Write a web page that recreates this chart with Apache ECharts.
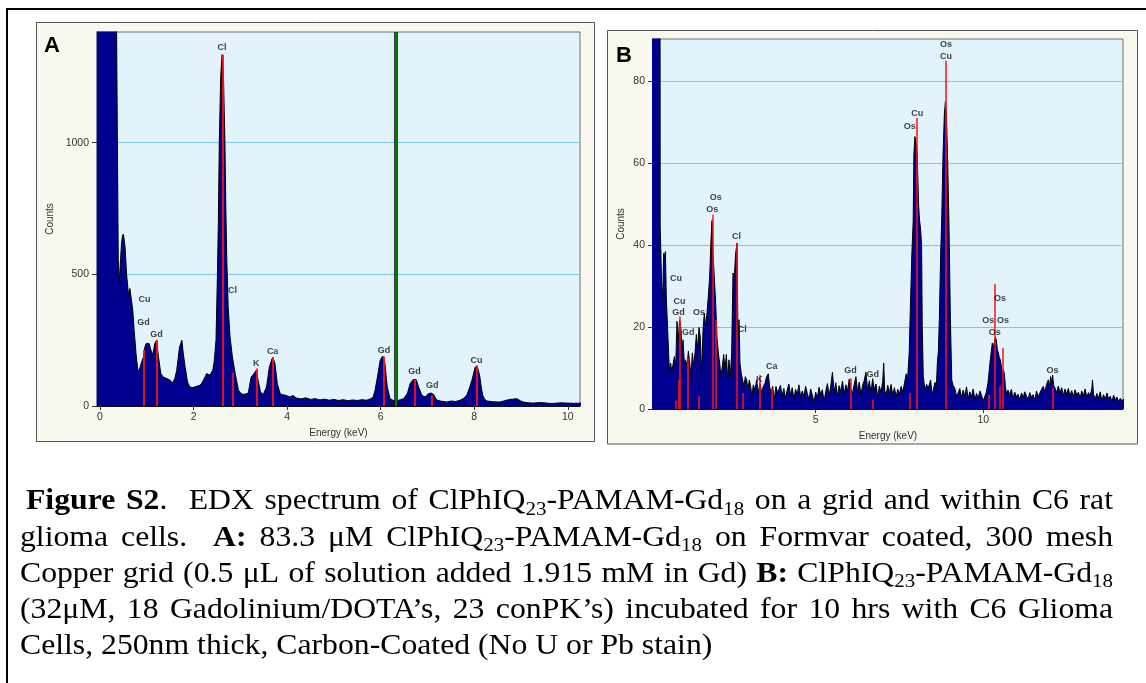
<!DOCTYPE html>
<html><head><meta charset="utf-8">
<script src="https://cdn.jsdelivr.net/npm/echarts@6/dist/echarts.min.js"></script>
<style>html,body{margin:0;padding:0;background:#fff}#c{width:1146px;height:683px}</style>
</head><body><div id="c"></div>
<script>
// ---------- Panel A data (Energy keV, Counts) ----------
const A_energy = [-0.07,0.35,0.355,0.372,0.39,0.413,0.44,0.46,0.48,0.50,0.535,0.57,0.61,0.64,0.66,0.68,0.70,0.73,0.77,0.80,0.82,0.845,0.87,0.90,0.93,0.96,0.99,1.01,1.05,1.08,1.12,1.15,1.17,1.21,1.25,1.30,1.35,1.39,1.43,1.47,1.50,1.55,1.60,1.64,1.70,1.75,1.78,1.82,1.87,1.92,1.96,1.99,2.03,2.07,2.14,2.18,2.21,2.25,2.28,2.35,2.41,2.44,2.48,2.51,2.53,2.55,2.58,2.61,2.64,2.67,2.69,2.71,2.74,2.78,2.83,2.89,2.96,3.01,3.06,3.12,3.17,3.20,3.23,3.28,3.34,3.38,3.43,3.49,3.56,3.62,3.69,3.74,3.79,3.85,3.90,3.96,4.01,4.06,4.12,4.20,4.30,4.40,4.50,4.60,4.70,4.80,4.90,5.00,5.10,5.20,5.30,5.40,5.50,5.60,5.70,5.78,5.84,5.88,5.93,5.99,6.04,6.09,6.14,6.20,6.27,6.34,6.42,6.49,6.57,6.63,6.69,6.76,6.81,6.88,6.95,7.02,7.08,7.13,7.20,7.30,7.41,7.50,7.60,7.70,7.78,7.84,7.90,7.95,8.02,8.07,8.12,8.15,8.18,8.22,8.27,8.40,8.55,8.65,8.73,8.82,8.91,8.98,9.05,9.15,9.26,9.40,9.50,9.60,9.70,9.85,9.98,10.15,10.30];
const A_counts = [3000,3000,1420,1000,560,465,560,617,645,653,605,497,421,446,452,440,364,288,199,150,129,140,155,172,186,224,238,243,237,218,193,215,237,250,186,123,110,108,104,101,98,87,105,136,224,250,199,148,91,72,68,70,72,75,79,88,98,112,123,117,136,167,250,500,700,1000,1250,1334,1250,1000,750,560,376,262,186,123,60,48,44,46,49,80,110,120,136,98,53,44,72,148,186,161,85,47,43,41,38,34,40,30,27,31,25,28,23,26,22,25,21,24,20,23,21,24,22,27,34,60,110,174,189,161,72,28,21,19,24,28,47,85,100,100,72,41,34,47,49,44,22,18,15,19,17,22,30,41,70,98,148,148,110,70,41,26,19,16,15,20,24,26,28,20,15,12,11,13,12,10,10,12,11,10,11];
// Identified element lines (energy, marker height)
const A_lineEnergy = [0.94,1.21,2.62,2.84,3.34,3.69,6.07,6.72,7.10,8.05];
const A_lineHeight = [214,252,1334,126,142,186,189,100,41,155];
// Peak labels (text, energy, counts)
const A_labelText = ['Cl','Cu','Gd','Gd','Cl','K','Ca','Gd','Gd','Gd','Cu'];
const A_labelEnergy = [2.61,0.95,0.93,1.21,2.83,3.34,3.69,6.07,6.72,7.10,8.05];
const A_labelCounts = [1361,405,317,271,437,161,205,212,131,78,174];
const A_cursor = 6.32;
const A_xTicks = [0,2,4,6,8,10];
const A_yTicks = [0,500,1000];

// ---------- Panel B data ----------
const B_energy = [0.10,0.345,0.36,0.405,0.435,0.465,0.49,0.515,0.545,0.574,0.604,0.634,0.673,0.703,0.743,0.783,0.823,0.862,0.902,0.942,0.982,1.012,1.042,1.081,1.121,1.161,1.201,1.241,1.280,1.320,1.360,1.400,1.439,1.479,1.519,1.559,1.598,1.638,1.678,1.718,1.757,1.797,1.837,1.877,1.906,1.936,1.976,2.016,2.056,2.095,2.135,2.175,2.215,2.254,2.294,2.334,2.374,2.413,2.453,2.493,2.533,2.573,2.612,2.652,2.682,2.712,2.741,2.781,2.821,2.861,2.900,2.940,2.980,3.019,3.059,3.099,3.139,3.188,3.238,3.288,3.338,3.387,3.437,3.487,3.537,3.586,3.626,3.666,3.716,3.765,3.815,3.865,3.90,3.95,4.00,4.05,4.10,4.15,4.20,4.25,4.30,4.35,4.40,4.45,4.50,4.55,4.60,4.65,4.70,4.75,4.80,4.85,4.90,4.95,5.00,5.05,5.10,5.15,5.20,5.25,5.30,5.35,5.40,5.45,5.50,5.55,5.60,5.65,5.70,5.75,5.80,5.85,5.90,5.95,6.00,6.05,6.10,6.15,6.20,6.25,6.30,6.35,6.40,6.45,6.50,6.55,6.60,6.65,6.70,6.75,6.80,6.85,6.90,6.95,7.00,7.03,7.06,7.10,7.15,7.20,7.25,7.30,7.35,7.40,7.45,7.50,7.55,7.60,7.65,7.70,7.74,7.79,7.83,7.87,7.91,7.93,7.96,8.00,8.03,8.07,8.10,8.13,8.16,8.18,8.21,8.26,8.31,8.36,8.43,8.47,8.51,8.56,8.60,8.63,8.66,8.69,8.73,8.76,8.80,8.84,8.87,8.90,8.94,8.98,9.02,9.06,9.10,9.15,9.20,9.25,9.30,9.35,9.40,9.45,9.50,9.55,9.60,9.65,9.70,9.75,9.80,9.85,9.90,9.95,10.00,10.04,10.09,10.14,10.18,10.21,10.27,10.30,10.33,10.36,10.39,10.42,10.45,10.48,10.51,10.54,10.57,10.60,10.63,10.66,10.69,10.74,10.79,10.84,10.89,10.94,10.99,11.04,11.09,11.14,11.19,11.24,11.29,11.34,11.39,11.44,11.49,11.54,11.59,11.64,11.69,11.74,11.79,11.84,11.89,11.94,11.98,12.01,12.04,12.07,12.10,12.14,12.19,12.24,12.29,12.34,12.39,12.44,12.49,12.54,12.59,12.64,12.69,12.74,12.79,12.84,12.89,12.94,12.99,13.04,13.09,13.14,13.19,13.24,13.26,13.29,13.34,13.39,13.44,13.49,13.54,13.59,13.64,13.69,13.74,13.79,13.84,13.89,13.94,13.99,14.04,14.09,14.14,14.20];
const B_counts = [300,300,45,29.9,27.5,38.0,37,38.4,26.7,27.1,15.3,9.2,11.2,9.2,10.8,12.8,10.4,21.4,16.9,21.8,19.4,13.7,16.9,11.2,12.0,10.4,14.1,11.2,7.9,13.7,10.4,13.7,18.2,14.6,19.9,17.4,8.6,19.4,23.4,19.9,23.4,27.5,32.3,41.3,46.0,38.0,38.0,25.9,17.4,13.7,11.2,7.9,10.4,13.3,9.6,13.3,7.1,12.0,7.9,13.7,33.2,32.3,38.0,40.5,16.9,21.8,11.2,8.6,9.0,5.5,7.9,7.1,4.6,7.1,5.5,3.1,5.9,4.6,7.1,3.9,6.3,3.9,5.5,6.3,7.9,8.6,5.5,3.9,5.5,2.3,5.5,3.9,4.2,5.8,3.1,5.0,2.6,4.6,6.1,3.3,5.2,2.4,4.8,3.6,5.9,2.9,4.4,3.0,5.5,3.8,2.2,4.9,3.4,1.6,4.1,2.7,5.3,3.5,4.7,1.8,4.3,6.2,3.2,5.6,9.0,4.0,6.4,3.1,5.7,4.2,6.8,3.6,5.9,4.4,7.3,5.0,3.8,6.0,7.9,4.1,6.6,3.4,5.8,7.0,9.0,4.5,6.9,3.9,7.4,4.7,6.1,2.8,5.6,4.0,6.7,11.2,4.5,3.2,5.8,3.9,6.0,3.3,5.2,2.9,4.8,3.6,5.5,4.1,6.3,8.6,7.0,13.7,25.9,38,46,62,66.5,64.5,62,50,46,44,40,20,8,4.6,6.0,5.1,7.1,3.8,4.6,6.5,5.2,11.2,14,21.8,38,46,62,72,75,72,60,44,22,7.1,5.8,5.1,3.2,3.9,5.0,2.8,4.6,3.1,5.4,2.5,4.2,3.0,4.9,2.2,3.8,2.6,4.4,3.3,2.0,1.9,4.0,6.3,9.5,12.0,16.1,15.0,15.3,17.5,16.9,14.5,13.7,12.5,12.0,10.5,9.0,9.6,8.6,5.5,3.9,4.6,3.5,4.8,2.6,4.1,3.0,3.6,2.2,3.9,2.8,4.2,3.1,2.4,4.0,2.9,3.5,2.1,4.4,3.0,3.9,4.8,5.5,4.2,6.0,7.1,5.4,7.9,6.2,8.3,5.8,5.1,4.0,5.6,3.9,5.2,3.3,4.9,3.6,5.0,3.1,4.5,2.9,4.7,3.4,4.1,2.7,4.4,3.2,4.9,2.8,4.0,3.3,5.0,7.1,3.6,2.4,3.8,2.6,4.2,2.0,3.5,2.3,3.9,2.5,3.1,1.8,3.4,2.2,2.9,1.7,2.6,2.0,2.4];
const B_lineEnergy = [0.822,0.912,0.942,1.18,1.50,1.915,2.01,2.632,2.82,3.32,3.68,6.04,6.70,7.81,8.03,8.88,10.15,10.33,10.49,10.57,12.06];
const B_lineHeight = [2,7.1,22.6,12.4,3.1,47.4,21.8,40.5,3.9,8.3,5.1,7.5,2.3,3.9,71,85,3.5,30.5,5.5,14.9,5.1];
const B_labelText = ['Os','Os','Cl','Cu','Cu','Gd','Gd','Os','Cl','K','Ca','Gd','Gd','Cu','Os','Os','Cu','Os','Os','Os','Os','Os'];
const B_labelEnergy = [2.016,1.915,2.64,0.832,0.94,0.91,1.20,1.52,2.81,3.32,3.69,6.04,6.70,8.03,7.81,8.89,8.89,10.50,10.15,10.59,10.34,12.07];
const B_labelCounts = [51.7,48.6,42.0,31.9,26.3,23.6,18.7,23.6,19.3,7.3,10.4,9.4,8.4,72.2,68.9,88.9,86.0,27.0,21.5,21.5,18.7,9.4];
const B_xTicks = [5,10];
const B_yTicks = [0,20,40,60,80];

// ---------- caption text (style, text) ----------
const captionSegs = [
  [['b','Figure S2'],['n','.  EDX spectrum of ClPhIQ'],['s','23'],['n','-PAMAM-Gd'],['s','18'],['n',' on a grid and within C6 rat']],
  [['n','glioma cells.  '],['b','A:'],['n',' 83.3 \u03bcM ClPhIQ'],['s','23'],['n','-PAMAM-Gd'],['s','18'],['n',' on Formvar coated, 300 mesh']],
  [['n','Copper grid (0.5 \u03bcL of solution added 1.915 mM in Gd) '],['b','B:'],['n',' ClPhIQ'],['s','23'],['n','-PAMAM-Gd'],['s','18']],
  [['n','(32\u03bcM, 18 Gadolinium/DOTA\u2019s, 23 conPK\u2019s) incubated for 10 hrs with C6 Glioma']],
  [['n','Cells, 250nm thick, Carbon-Coated (No U or Pb stain)']]
];
const captionJustify = [true,true,true,true,false];

// ---------- styling ----------
const SANS = 'Liberation Sans, Arial, sans-serif';
const SERIF = 'Liberation Serif, Times New Roman, serif';
const NAVY = '#00008f';
const PLOTBG = '#e2f3fb';
const GRIDC = '#78c8e6';
const CAP_SIZE = 29.5, SUB_SIZE = 19.5, CAP_LH = 36, CAP_SX = 1.075;
const CAP_LEFT = [26,20,20,20,20], CAP_RIGHT = 1113, capTop = 483.7, capStep = 36.2;

function zip(a,b){return a.map((v,i)=>[v,b[i]]);}
function redLines(E,H){return E.map((e,i)=>[{coord:[e,0]},{coord:[e,H[i]]}]);}
function labels(T,E,C){return T.map((t,i)=>({name:t,value:[E[i],C[i]]}));}

function xAxisOpt(gi,min,max,ticks,gap){
  return {type:'value',gridIndex:gi,min:min,max:max,
    name:'Energy (keV)',nameLocation:'middle',nameGap:gap,
    nameTextStyle:{fontFamily:SANS,fontSize:10,color:'#333'},
    axisLine:{show:true,onZero:false,lineStyle:{color:'#111',width:1}},
    axisTick:{show:true,customValues:ticks,length:4,lineStyle:{color:'#333'}},
    axisLabel:{customValues:ticks,formatter:v=>String(v),fontFamily:SANS,fontSize:10.5,color:'#333',margin:6},
    splitLine:{show:false}};
}
function yAxisOpt(gi,min,max,ticks,gap){
  return {type:'value',gridIndex:gi,min:min,max:max,
    name:'Counts',nameLocation:'middle',nameGap:gap,
    nameTextStyle:{fontFamily:SANS,fontSize:10,color:'#333'},
    axisLine:{show:true,onZero:false,lineStyle:{color:'#111',width:1}},
    axisTick:{show:true,customValues:ticks,length:5,lineStyle:{color:'#333'}},
    axisLabel:{customValues:ticks,formatter:v=>String(v),fontFamily:SANS,fontSize:10.5,color:'#333',margin:8},
    splitLine:{show:true,lineStyle:{color:GRIDC,width:1}}};
}
const labelStyle = {show:true,position:'inside',formatter:'{b}',fontFamily:SANS,fontSize:9,fontWeight:'bold',color:'#111'};

// ---- caption layout: justified like the word-processor paragraph ----
const mctx = document.createElement('canvas').getContext('2d');
function fontOf(st){
  if (st==='b') return 'bold '+CAP_SIZE+'px '+SERIF;
  if (st==='s') return SUB_SIZE+'px '+SERIF;
  return CAP_SIZE+'px '+SERIF;
}
function measure(st,t){mctx.font=fontOf(st);return mctx.measureText(t).width;}
function buildCaptionLine(segs,justify,left){
  const toks=[];
  segs.forEach(([st,txt])=>{
    if (st==='s'){toks.push([st,txt]);return;}
    const parts=txt.split(' ');
    parts.forEach((p,j)=>{ if(p) toks.push([st,p]); if(j<parts.length-1) toks.push(['SP',st]); });
  });
  let natural=0,nSp=0;
  toks.forEach(([st,t])=>{ if(st==='SP'){natural+=measure(t,' ');nSp++;} else natural+=measure(st,t); });
  const spW = measure('n',' ');
  const target = (CAP_RIGHT-left)/CAP_SX;
  const extra = justify && nSp ? Math.max(0,(target-natural)/nSp) : 0;
  const rich = {
    n:{fontFamily:SERIF,fontSize:CAP_SIZE,lineHeight:CAP_LH,color:'#000'},
    b:{fontFamily:SERIF,fontSize:CAP_SIZE,lineHeight:CAP_LH,fontWeight:'bold',color:'#000'},
    s:{fontFamily:SERIF,fontSize:SUB_SIZE,lineHeight:21,verticalAlign:'bottom',color:'#000'},
    g:{fontFamily:SERIF,fontSize:CAP_SIZE,lineHeight:CAP_LH,width:spW+extra}
  };
  const text = toks.map(([st,t])=> st==='SP' ? '{g| }' : '{'+st+'|'+t+'}').join('');
  return {text,rich};
}

const graphics = [
  {type:'rect',z:-10,shape:{x:7,y:9,width:1160,height:700},style:{fill:'#fff',stroke:'#000',lineWidth:2}},
  {type:'rect',z:-9,shape:{x:36.5,y:22.5,width:558,height:419},style:{fill:'#f7f8ee',stroke:'#555',lineWidth:1}},
  {type:'rect',z:-9,shape:{x:607.5,y:30.5,width:530,height:413.5},style:{fill:'#f7f8ee',stroke:'#555',lineWidth:1}},
  {type:'text',z:10,style:{x:44,y:35,text:'A',fontFamily:SANS,fontSize:22,fontWeight:'bold',fill:'#000'}},
  {type:'text',z:10,style:{x:616,y:45,text:'B',fontFamily:SANS,fontSize:22,fontWeight:'bold',fill:'#000'}}
];
captionSegs.forEach((segs,i)=>{
  const L = buildCaptionLine(segs,captionJustify[i],CAP_LEFT[i]);
  graphics.push({type:'text',z:10,x:CAP_LEFT[i],y:capTop+i*capStep,scaleX:CAP_SX,scaleY:1,
    style:{x:0,y:0,text:L.text,rich:L.rich,verticalAlign:'top',fontFamily:SERIF,fontSize:CAP_SIZE,fill:'#000'}});
});

const option = {
  animation:false,
  backgroundColor:'#fff',
  graphic:graphics,
  grid:[
    {left:97,top:32,width:483,height:374,show:true,backgroundColor:PLOTBG,borderColor:'#707070',borderWidth:1,containLabel:false},
    {left:653,top:39,width:470,height:370,show:true,backgroundColor:PLOTBG,borderColor:'#707070',borderWidth:1,containLabel:false}
  ],
  xAxis:[xAxisOpt(0,-0.064,10.26,A_xTicks,21), xAxisOpt(1,0.146,14.17,B_xTicks,19)],
  yAxis:[yAxisOpt(0,0,1420,A_yTicks,42), yAxisOpt(1,0,90.3,B_yTicks,27)],
  series:[
    {type:'line',xAxisIndex:0,yAxisIndex:0,data:zip(A_energy,A_counts),symbol:'none',clip:true,silent:true,
     lineStyle:{color:'#000',width:1},areaStyle:{color:NAVY,opacity:1},z:2,
     markLine:{silent:true,symbol:'none',animation:false,label:{show:false},
       data:[{xAxis:A_cursor,lineStyle:{color:'#000',width:3.5,type:'solid'}}]}},
    {type:'line',xAxisIndex:0,yAxisIndex:0,data:[],symbol:'none',silent:true,z:3,
     markLine:{silent:true,symbol:'none',animation:false,label:{show:false},
       lineStyle:{color:'#ff1010',width:1.8,type:'solid'},data:redLines(A_lineEnergy,A_lineHeight)}},
    {type:'line',xAxisIndex:0,yAxisIndex:0,data:[],symbol:'none',silent:true,z:4,
     markLine:{silent:true,symbol:'none',animation:false,label:{show:false},
       data:[{xAxis:A_cursor,lineStyle:{color:'#00a000',width:1.6,type:'solid'}}]}},
    {type:'scatter',xAxisIndex:0,yAxisIndex:0,data:labels(A_labelText,A_labelEnergy,A_labelCounts),symbolSize:1,
     itemStyle:{color:'transparent'},label:labelStyle,silent:true,z:5},

    {type:'line',xAxisIndex:1,yAxisIndex:1,data:zip(B_energy,B_counts),symbol:'none',clip:true,silent:true,
     lineStyle:{color:'#000',width:1},areaStyle:{color:NAVY,opacity:1},z:2},
    {type:'line',xAxisIndex:1,yAxisIndex:1,data:[],symbol:'none',silent:true,z:3,
     markLine:{silent:true,symbol:'none',animation:false,label:{show:false},
       lineStyle:{color:'#ff1010',width:1.5,type:'solid'},data:redLines(B_lineEnergy,B_lineHeight)}},
    {type:'scatter',xAxisIndex:1,yAxisIndex:1,data:labels(B_labelText,B_labelEnergy,B_labelCounts),symbolSize:1,
     itemStyle:{color:'transparent'},label:labelStyle,silent:true,z:5}
  ]
};
const chart = echarts.init(document.getElementById('c'),null,{renderer:'canvas'});
chart.setOption(option);
</script></body></html>
